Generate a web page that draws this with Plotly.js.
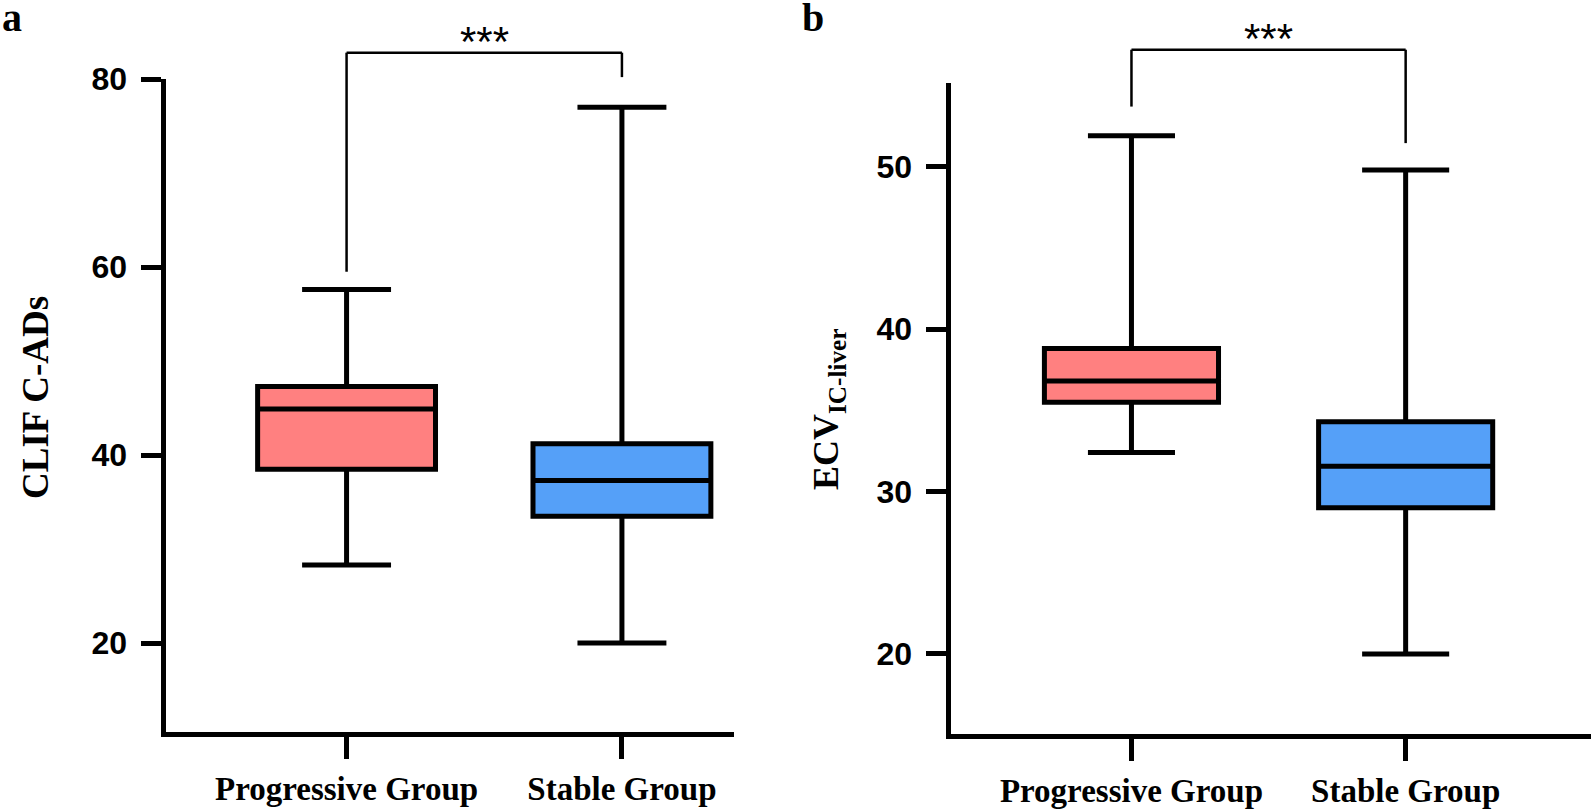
<!DOCTYPE html>
<html>
<head>
<meta charset="utf-8">
<script src="https://cdn.plot.ly/plotly-3.0.1.min.js"></script>
<style>
  html, body { margin: 0; padding: 0; background: #fff; }
  #chart { width: 1594px; height: 810px; }
</style>
</head>
<body>
<div id="chart"></div>
<script>
const groups = ["Progressive Group", "Stable Group"];
const groupColors = ["#ff8080", "#55a0f8"];

// panel a: CLIF C-ADs
const clifLower = [28.3, 20.0];
const clifQ1 = [38.5, 33.5];
const clifMedian = [44.9, 37.3];
const clifQ3 = [47.3, 41.2];
const clifUpper = [57.6, 77.0];
const clifTicks = [20, 40, 60, 80];

// panel b: ECV IC-liver
const ecvLower = [32.4, 20.0];
const ecvQ1 = [35.5, 29.0];
const ecvMedian = [36.8, 31.55];
const ecvQ3 = [38.8, 34.3];
const ecvUpper = [51.9, 49.8];
const ecvTicks = [20, 30, 40, 50];

// significance brackets: left leg bottom, top bar, right leg bottom
const clifBracket = [59.5, 82.8, 80.2];
const ecvBracket = [53.7, 57.2, 51.45];

const W = 1594, H = 810;
const sans = "Liberation Sans, Arial, sans-serif";
const serif = "Liberation Serif, Times New Roman, serif";

const xRangeA = [-0.6576, 1.407];
const yRangeA = [10.6, 80];
const xRangeB = [-0.660, 1.676];
const yRangeB = [15.1, 55.17];

function boxTraces(lower, q1, med, q3, upper, xa, ya, width) {
  return groups.map((g, i) => ({
    type: "box",
    x: [g],
    lowerfence: [lower[i]],
    q1: [q1[i]],
    median: [med[i]],
    q3: [q3[i]],
    upperfence: [upper[i]],
    fillcolor: groupColors[i],
    line: { color: "#000", width: 5 },
    whiskerwidth: 0.5,
    width: width,
    boxpoints: false,
    hoverinfo: "skip",
    xaxis: xa,
    yaxis: ya
  }));
}

function frac(v, r) {
  return (v - r[0]) / (r[1] - r[0]);
}

function bracketShapes(b, xr, yr, xref, yref) {
  const x0 = frac(0, xr), x1 = frac(1, xr);
  const yl = frac(b[0], yr), yt = frac(b[1], yr), yr2 = frac(b[2], yr);
  const base = { type: "line", xref: xref + " domain", yref: yref + " domain", line: { color: "#000", width: 2.5 } };
  return [
    { ...base, x0: x0, x1: x0, y0: yl, y1: yt },
    { ...base, x0: x0, x1: x1, y0: yt, y1: yt },
    { ...base, x0: x1, x1: x1, y0: yt, y1: yr2 }
  ];
}

function xAxis(domain, range) {
  return {
    domain: domain,
    range: range,
    type: "category",
    showline: true,
    linewidth: 5,
    linecolor: "#000",
    ticks: "outside",
    ticklen: 22,
    tickwidth: 5,
    tickcolor: "#000",
    ticklabelstandoff: 2,
    tickfont: { family: serif, size: 33, color: "#000", weight: "bold" },
    showgrid: false,
    zeroline: false,
    fixedrange: true
  };
}

function yAxis(domain, range, ticks, anchor) {
  return {
    domain: domain,
    range: range,
    anchor: anchor,
    tickvals: ticks,
    showline: true,
    linewidth: 5,
    linecolor: "#000",
    ticks: "outside",
    ticklen: 20,
    tickwidth: 5,
    tickcolor: "#000",
    ticklabelstandoff: 7,
    tickfont: { family: sans, size: 32, color: "#000", weight: "bold" },
    showgrid: false,
    zeroline: false,
    fixedrange: true
  };
}

const data = [
  ...boxTraces(clifLower, clifQ1, clifMedian, clifQ3, clifUpper, "x", "y", 0.646),
  ...boxTraces(ecvLower, ecvQ1, ecvMedian, ecvQ3, ecvUpper, "x2", "y2", 0.635)
];

const layout = {
  width: W,
  height: H,
  margin: { l: 0, r: 0, t: 0, b: 0 },
  paper_bgcolor: "#fff",
  plot_bgcolor: "#fff",
  showlegend: false,
  hovermode: false,
  xaxis: { ...xAxis([165.5 / W, 734 / W], xRangeA), anchor: "y" },
  yaxis: yAxis([1 - 731.5 / H, 1 - 79 / H], yRangeA, clifTicks, "x"),
  xaxis2: { ...xAxis([950.5 / W, 1591 / W], xRangeB), anchor: "y2" },
  yaxis2: yAxis([1 - 733.5 / H, 1 - 82.7 / H], yRangeB, ecvTicks, "x2"),
  shapes: [
    ...bracketShapes(clifBracket, xRangeA, yRangeA, "x", "y"),
    ...bracketShapes(ecvBracket, xRangeB, yRangeB, "x2", "y2")
  ],
  annotations: [
    {
      text: "***", xref: "x domain", yref: "y domain",
      x: frac(0.5, xRangeA), y: frac(clifBracket[1], yRangeA),
      xanchor: "center", yanchor: "bottom", showarrow: false, yshift: -14,
      font: { family: sans, size: 42, color: "#000" }
    },
    {
      text: "***", xref: "x2 domain", yref: "y2 domain",
      x: frac(0.5, xRangeB), y: frac(ecvBracket[1], yRangeB),
      xanchor: "center", yanchor: "bottom", showarrow: false, yshift: -14,
      font: { family: sans, size: 42, color: "#000" }
    },
    {
      text: "CLIF C-ADs", xref: "paper", yref: "paper",
      x: 35 / W, y: 1 - 398 / H, textangle: -90,
      xanchor: "center", yanchor: "middle", showarrow: false,
      font: { family: serif, size: 37, color: "#000", weight: "bold" }
    },
    {
      text: "ECV<sub>IC-liver</sub>", xref: "paper", yref: "paper",
      x: 828 / W, y: 1 - 409 / H, textangle: -90,
      xanchor: "center", yanchor: "middle", showarrow: false,
      font: { family: serif, size: 36, color: "#000", weight: "bold" }
    },
    {
      text: "a", xref: "paper", yref: "paper",
      x: 0, y: 1 - 17 / H, xanchor: "left", yanchor: "middle", showarrow: false,
      font: { family: serif, size: 40, color: "#000", weight: "bold" }
    },
    {
      text: "b", xref: "paper", yref: "paper",
      x: 800 / W, y: 1 - 17 / H, xanchor: "left", yanchor: "middle", showarrow: false,
      font: { family: serif, size: 40, color: "#000", weight: "bold" }
    }
  ]
};

Plotly.newPlot("chart", data, layout, { displayModeBar: false, staticPlot: true });
</script>
</body>
</html>
